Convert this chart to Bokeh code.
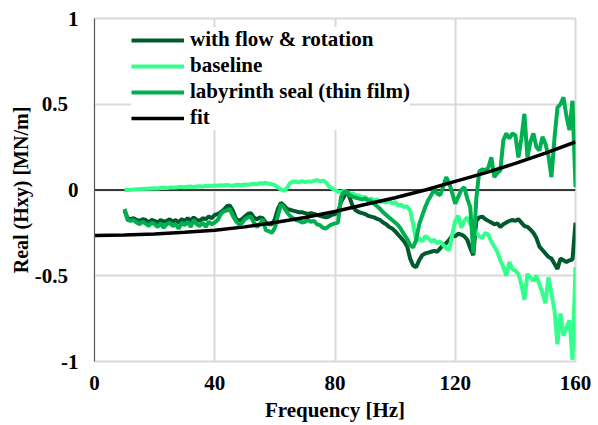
from bokeh.plotting import figure
from bokeh.models import FixedTicker, Span, Legend, LegendItem
from bokeh.embed import file_html
from bokeh.resources import INLINE

freq = list(range(10, 161))

with_flow = [
    -0.12, -0.165, -0.17, -0.165, -0.175, -0.18, -0.17, -0.175, -0.19, -0.175,
    -0.18, -0.19, -0.175, -0.185, -0.18, -0.17, -0.185, -0.175, -0.19, -0.17,
    -0.18, -0.165, -0.18, -0.16, -0.175, -0.18, -0.165, -0.17, -0.155, -0.165,
    -0.145, -0.14, -0.13, -0.115, -0.095, -0.09, -0.12, -0.165, -0.18, -0.17,
    -0.155, -0.14, -0.135, -0.16, -0.17, -0.16, -0.165, -0.19, -0.2, -0.2,
    -0.17, -0.11, -0.075, -0.09, -0.11, -0.115, -0.12, -0.125, -0.13, -0.13,
    -0.135, -0.14, -0.135, -0.14, -0.145, -0.15, -0.155, -0.16, -0.155, -0.145,
    -0.14, -0.13, -0.07, -0.04, 0.0, -0.05, -0.1, -0.12, -0.13, -0.135,
    -0.14, -0.15, -0.155, -0.16, -0.168, -0.175, -0.19, -0.2, -0.215, -0.225,
    -0.24, -0.26, -0.28, -0.3, -0.33, -0.4, -0.44, -0.45, -0.41, -0.38,
    -0.37, -0.365, -0.36, -0.355, -0.36, -0.34, -0.32, -0.31, -0.29, -0.265,
    -0.27, -0.255, -0.26, -0.27, -0.29, -0.34, -0.38, -0.18, -0.16, -0.155,
    -0.17, -0.18, -0.19, -0.2, -0.195, -0.215, -0.2, -0.19, -0.18, -0.175,
    -0.18, -0.17, -0.19, -0.21, -0.215, -0.23, -0.25, -0.28, -0.33, -0.35,
    -0.37, -0.39, -0.4, -0.43, -0.46, -0.4, -0.41, -0.42, -0.41, -0.405,
    -0.19,
]

baseline = [
    0.0, 0.0, 0.002, 0.003, 0.005, 0.004, 0.006, 0.008, 0.007, 0.009,
    0.01, 0.009, 0.012, 0.013, 0.011, 0.014, 0.015, 0.014, 0.017, 0.018,
    0.016, 0.019, 0.02, 0.018, 0.021, 0.022, 0.02, 0.024, 0.025, 0.023,
    0.026, 0.025, 0.028, 0.026, 0.03, 0.027, 0.025, 0.029, 0.031, 0.028,
    0.032, 0.03, 0.034, 0.036, 0.033, 0.04, 0.038, 0.042, 0.036, 0.034,
    0.028, 0.015, 0.005, -0.005, 0.01, 0.04, 0.05, 0.048, 0.045, 0.052,
    0.046, 0.05, 0.048, 0.053, 0.058, 0.05, 0.055, 0.045, 0.02, 0.01,
    0.0, -0.01, -0.012, -0.005, -0.015, -0.022, -0.02, -0.035, -0.03, -0.045,
    -0.04, -0.055, -0.05, -0.06, -0.055, -0.07, -0.065, -0.075, -0.06, -0.08,
    -0.07, -0.09, -0.085, -0.1, -0.095, -0.12, -0.2, -0.3, -0.28, -0.3,
    -0.27, -0.28, -0.3, -0.29, -0.31, -0.3, -0.32, -0.34, -0.35, -0.26,
    -0.18, -0.15, -0.22, -0.18, -0.16, -0.2, -0.22, -0.25, -0.27, -0.28,
    -0.25, -0.26, -0.3, -0.33, -0.36, -0.41, -0.45, -0.5, -0.42, -0.46,
    -0.47, -0.49, -0.55, -0.64, -0.49, -0.51, -0.53, -0.5, -0.55, -0.6,
    -0.66, -0.51, -0.6, -0.7, -0.9, -0.72, -0.85, -0.8, -0.76, -0.99,
    -0.45,
]

labyrinth = [
    -0.11, -0.175, -0.18, -0.175, -0.19, -0.2, -0.185, -0.195, -0.21, -0.19,
    -0.2, -0.215, -0.195, -0.22, -0.2, -0.19, -0.21, -0.2, -0.225, -0.19,
    -0.205, -0.185, -0.215, -0.175, -0.2, -0.21, -0.19, -0.215, -0.185, -0.2,
    -0.19, -0.175, -0.14, -0.125, -0.12, -0.11, -0.15, -0.18, -0.2, -0.195,
    -0.17, -0.16, -0.155, -0.19, -0.215, -0.2, -0.17, -0.235, -0.24, -0.25,
    -0.22, -0.15, -0.085, -0.1, -0.13, -0.15, -0.165, -0.175, -0.18, -0.19,
    -0.185, -0.175, -0.185, -0.18, -0.2, -0.205, -0.22, -0.225, -0.21, -0.2,
    -0.195, -0.19, -0.04, -0.01, -0.015, -0.03, -0.04, -0.045, -0.05, -0.055,
    -0.05, -0.06, -0.065, -0.08, -0.095, -0.11, -0.13, -0.145, -0.16, -0.175,
    -0.19, -0.205, -0.23, -0.26, -0.285, -0.32, -0.335, -0.29, -0.2, -0.15,
    -0.1, -0.06, -0.03, 0.0, -0.02, -0.03, 0.02, 0.075, 0.04, -0.02,
    -0.08, -0.04, 0.0, 0.016, -0.05, -0.1, -0.37, -0.05, 0.11, 0.12,
    0.115, 0.13, 0.19, 0.075, 0.1, 0.114, 0.29, 0.33, 0.3, 0.33,
    0.32, 0.19, 0.3, 0.444, 0.19, 0.28, 0.33, 0.25, 0.23, 0.31,
    0.27, 0.2, 0.075, 0.3, 0.48, 0.5, 0.54, 0.43, 0.35, 0.52,
    0.016,
]

fit_freq = [0, 10, 20, 30, 40, 50, 60, 70, 80, 90, 100, 110, 120, 130, 140, 150, 160]
fit_vals = [-0.265, -0.263, -0.257, -0.247, -0.235, -0.215, -0.19, -0.16, -0.125,
            -0.085, -0.045, 0.0, 0.05, 0.1, 0.155, 0.215, 0.28]

x_ticks = [0, 40, 80, 120, 160]
y_ticks = [-1, -0.5, 0, 0.5, 1]
y_tick_labels = {-1: "-1", -0.5: "-0.5\u2002", 0: "0", 0.5: "0.5\u2002", 1: "1"}

FONT = "Liberation Serif"
GRID = "#d9d9d9"

p = figure(width=598, height=425, output_backend="svg", toolbar_location=None,
           x_range=(0, 160), y_range=(-1, 1),
           min_border_left=94, min_border_right=23, min_border_top=18, min_border_bottom=64)
p.background_fill_color = "white"
p.border_fill_color = "white"
p.outline_line_color = GRID
p.outline_line_width = 2

p.xaxis.ticker = FixedTicker(ticks=x_ticks)
p.yaxis.ticker = FixedTicker(ticks=y_ticks)
p.yaxis.major_label_overrides = y_tick_labels

for ax in (p.xaxis, p.yaxis):
    ax.major_tick_line_color = None
    ax.major_tick_in = 0
    ax.major_tick_out = 0
    ax.minor_tick_line_color = None
    ax.minor_tick_in = 0
    ax.minor_tick_out = 0
    ax.major_label_text_font = FONT
    ax.major_label_text_font_style = "bold"
    ax.major_label_text_font_size = "21px"
    ax.major_label_text_color = "black"
    ax.axis_label_text_font = FONT
    ax.axis_label_text_font_style = "bold"
    ax.axis_label_text_color = "black"

p.xaxis.axis_label_text_font_size = "21px"
p.yaxis.axis_label_text_font_size = "20px"
p.xaxis.axis_line_color = None
p.yaxis.axis_line_color = "#595959"
p.yaxis.axis_line_width = 1
p.xaxis.major_label_standoff = 14
p.yaxis.major_label_standoff = 16
p.xaxis.axis_label = "Frequency [Hz]"
p.yaxis.axis_label = "Real (Hxy) [MN/m]"
p.xaxis.axis_label_standoff = 5
p.yaxis.axis_label_standoff = 0

p.xgrid.grid_line_color = GRID
p.ygrid.grid_line_color = GRID
p.xgrid.grid_line_width = 2
p.ygrid.grid_line_width = 2

zero = Span(location=0, dimension="width", line_color="black", line_width=1.4, level="underlay")
p.add_layout(zero)

r1 = p.line(freq, with_flow, line_color="#005A2E", line_width=4)
r2 = p.line(freq, baseline, line_color="#33FF8C", line_width=4)
r3 = p.line(freq, labyrinth, line_color="#00B050", line_width=4)
r4 = p.line(fit_freq, fit_vals, line_color="black", line_width=3.5)

legend = Legend(items=[
    LegendItem(label="with flow & rotation", renderers=[r1]),
    LegendItem(label="baseline", renderers=[r2]),
    LegendItem(label="labyrinth seal (thin film)", renderers=[r3]),
    LegendItem(label="fit", renderers=[r4]),
], location=(37, 231))
legend.label_text_font = FONT
legend.label_text_font_style = "bold"
legend.label_text_font_size = "21px"
legend.label_text_color = "black"
legend.glyph_width = 53
legend.glyph_height = 20
legend.label_height = 20
legend.label_standoff = 6
legend.spacing = 1
legend.padding = 4
legend.margin = 0
legend.border_line_color = None
legend.background_fill_color = "white"
legend.background_fill_alpha = 1.0
p.add_layout(legend, "center")

open("out.html", "w").write(file_html(p, INLINE))
